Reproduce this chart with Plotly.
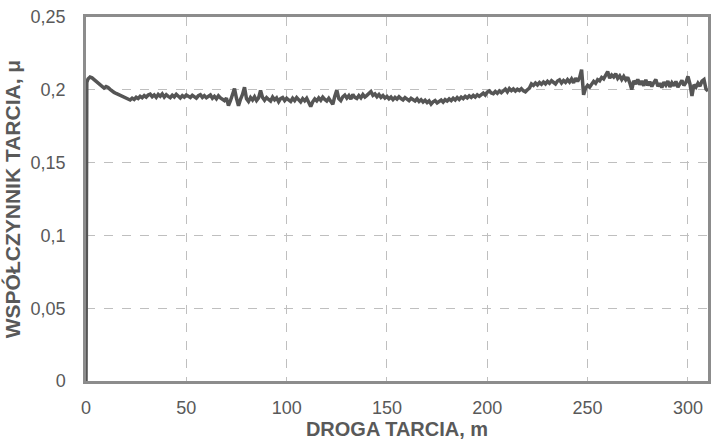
import plotly.graph_objects as go

# Friction distance [m]
distance = [0, 0.4] + list(range(1, 311))

# Coefficient of friction, one reading per metre
mu = [
    0.0, 0.2050,
    0.2075, 0.2088, 0.2082, 0.2070, 0.2062, 0.2048, 0.2040, 0.2025, 0.2012, 0.2022,
    0.2016, 0.2003, 0.1990, 0.1982, 0.1975, 0.1968, 0.1962, 0.1955, 0.1950, 0.1944,
    0.1938, 0.1930, 0.1943, 0.1934, 0.1949, 0.1940, 0.1955, 0.1946, 0.1960, 0.1949,
    0.1964, 0.1970, 0.1953, 0.1965, 0.1948, 0.1968, 0.1956, 0.1972, 0.1950, 0.1966,
    0.1955, 0.1946, 0.1963, 0.1951, 0.1969, 0.1957, 0.1944, 0.1960, 0.1949, 0.1964,
    0.1953, 0.1947, 0.1962, 0.1950, 0.1943, 0.1959, 0.1966, 0.1948, 0.1960, 0.1945,
    0.1957, 0.1964, 0.1942, 0.1955, 0.1938, 0.1959, 0.1944, 0.1933, 0.1926, 0.1943,
    0.1892, 0.1925, 0.1968, 0.2008, 0.1942, 0.1890, 0.1935, 0.1968, 0.2018, 0.1938,
    0.1920, 0.1947, 0.1930, 0.1952, 0.1926, 0.1944, 0.1995, 0.1948, 0.1928, 0.1947,
    0.1934, 0.1923, 0.1950, 0.1931, 0.1944, 0.1918, 0.1940, 0.1947, 0.1926, 0.1942,
    0.1930, 0.1920, 0.1942, 0.1926, 0.1947, 0.1928, 0.1917, 0.1939, 0.1924, 0.1942,
    0.1915, 0.1885, 0.1918, 0.1937, 0.1924, 0.1944, 0.1928, 0.1950, 0.1934, 0.1923,
    0.1942, 0.1916, 0.1900, 0.1955, 0.1998, 0.1940, 0.1926, 0.1952, 0.1964, 0.1943,
    0.1960, 0.1936, 0.1968, 0.1948, 0.1940, 0.1960, 0.1945, 0.1967, 0.1950, 0.1962,
    0.1972, 0.1988, 0.1962, 0.1972, 0.1953, 0.1968, 0.1948, 0.1960, 0.1943, 0.1954,
    0.1938, 0.1950, 0.1933, 0.1948, 0.1936, 0.1952, 0.1940, 0.1931, 0.1947, 0.1935,
    0.1926, 0.1942, 0.1930, 0.1923, 0.1938, 0.1920, 0.1932, 0.1916, 0.1928, 0.1912,
    0.1924, 0.1902, 0.1917, 0.1926, 0.1910, 0.1923, 0.1930, 0.1915, 0.1932, 0.1923,
    0.1937, 0.1926, 0.1942, 0.1930, 0.1947, 0.1934, 0.1950, 0.1940, 0.1955, 0.1944,
    0.1958, 0.1948, 0.1962, 0.1950, 0.1965, 0.1955, 0.1970, 0.1977, 0.1964, 0.1984,
    0.1992, 0.1978, 0.1973, 0.1988, 0.1976, 0.1992, 0.1980, 0.1997, 0.2005, 0.1986,
    0.2008, 0.1994, 0.2006, 0.1991, 0.2004, 0.1995, 0.2008, 0.1993, 0.1986, 0.2000,
    0.2012, 0.2040, 0.2030, 0.2047, 0.2034, 0.2050, 0.2038, 0.2054, 0.2041, 0.2058,
    0.2045, 0.2062, 0.2048, 0.2040, 0.2060, 0.2068, 0.2047, 0.2064, 0.2051, 0.2070,
    0.2053, 0.2074, 0.2048, 0.2080, 0.2058, 0.2084, 0.2138, 0.1966, 0.2010, 0.2030,
    0.2018, 0.2040, 0.2058, 0.2045, 0.2070, 0.2062, 0.2085, 0.2075, 0.2098, 0.2125,
    0.2080, 0.2102, 0.2088, 0.2110, 0.2078, 0.2095, 0.2070, 0.2092, 0.2068, 0.2085,
    0.2048, 0.2002, 0.2062, 0.2040, 0.2072, 0.2035, 0.2060, 0.2028, 0.2068, 0.2030,
    0.2055, 0.2022, 0.2050, 0.2070, 0.2025, 0.2045, 0.2015, 0.2052, 0.2032, 0.2060,
    0.2020, 0.2048, 0.2028, 0.2058, 0.2018, 0.2042, 0.2065, 0.2030, 0.2050, 0.2092,
    0.2040, 0.1958, 0.2035, 0.2018, 0.2045, 0.2025, 0.2060, 0.2070, 0.2005, 0.1992,
]

x_ticks = [0, 50, 100, 150, 200, 250, 300]
y_ticks = [0, 0.05, 0.1, 0.15, 0.2, 0.25]
y_tick_labels = ["0", "0,05", "0,1", "0,15", "0,2", "0,25"]

x_title = "DROGA TARCIA, m"
y_title = "WSPÓŁCZYNNIK TARCIA, μ"

text_color = "#595959"
font_family = "Liberation Sans, Arial, sans-serif"

fig = go.Figure()
fig.add_trace(go.Scatter(
    x=distance, y=mu, mode="lines",
    line=dict(color="#555555", width=3.5),
    showlegend=False,
))

fig.update_layout(
    width=711, height=441,
    margin=dict(l=86, r=0, t=17, b=60),
    paper_bgcolor="white", plot_bgcolor="white",
    font=dict(family=font_family, color=text_color, size=16),
)

fig.update_xaxes(
    range=[0, 310], tickvals=x_ticks,
    showgrid=True, gridcolor="#bfbfbf", gridwidth=1, griddash="dash",
    showline=True, linecolor="#8c8c8c", linewidth=2.5, mirror=True,
    zeroline=False, ticks="", ticklabelstandoff=9,
    tickfont=dict(size=18, color=text_color, family=font_family),
    title=dict(text="<b>" + x_title + "</b>",
               font=dict(size=20, color=text_color, family=font_family), standoff=2),
)
fig.update_yaxes(
    range=[0, 0.25], tickvals=y_ticks, ticktext=y_tick_labels,
    showgrid=True, gridcolor="#bfbfbf", gridwidth=1, griddash="dash",
    showline=True, linecolor="#8c8c8c", linewidth=2.5, mirror=True,
    zeroline=False, ticks="", ticklabelstandoff=14,
    tickfont=dict(size=18, color=text_color, family=font_family),
    title=dict(text="<b>" + y_title + "</b>",
               font=dict(size=21, color=text_color, family=font_family), standoff=5),
)

fig.write_html("out.html")
